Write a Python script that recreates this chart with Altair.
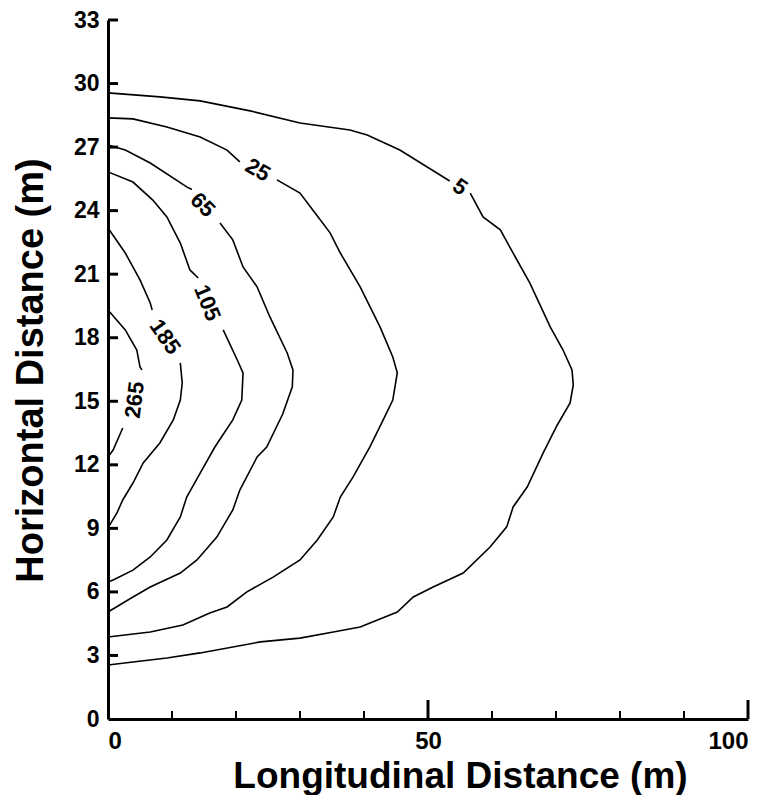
import altair as alt
import pandas as pd

# ---- contour polylines (x = longitudinal m, y = horizontal m); split where the label sits ----
c5_a_x = [0, 8.1, 14.4, 22.2, 30.0, 37.8, 40.5, 45.6, 53.4]
c5_a_y = [29.56, 29.37, 29.18, 28.71, 28.14, 27.81, 27.57, 26.86, 25.40]
c5_b_x = [56.6, 58.6, 61.3, 63.9, 65.9, 69.1, 71.1, 72.5, 72.7, 72.2, 70.2, 68.0, 65.5, 63.3, 62.3,
          59.7, 55.5, 50.8, 47.7, 45.2, 39.4, 35.2, 30.0, 23.8, 14.4, 9.2, 3.9, 0]
c5_b_y = [24.83, 23.70, 23.09, 21.67, 20.59, 18.51, 17.42, 16.48, 15.77, 14.92, 13.88, 12.56, 10.95,
          10.01, 9.07, 8.12, 6.89, 6.23, 5.76, 5.05, 4.34, 4.11, 3.82, 3.64, 3.12, 2.88, 2.69, 2.55]

c25_a_x = [0, 3.9, 9.2, 14.4, 18.6, 20.6]
c25_a_y = [28.38, 28.33, 27.95, 27.48, 26.86, 26.30]
c25_b_x = [26.4, 30.0, 32.0, 34.7, 36.3, 39.4, 42.5, 44.5, 45.2, 44.5, 43.0, 40.9, 38.3, 36.3, 35.2,
           32.7, 30.0, 25.8, 21.7, 18.6, 15.9, 11.7, 6.6, 0]
c25_b_y = [25.45, 24.83, 24.03, 22.95, 22.00, 20.40, 18.51, 17.09, 16.34, 15.06, 14.12, 12.84, 11.43,
           10.48, 9.54, 8.45, 7.51, 6.70, 6.00, 5.29, 5.00, 4.44, 4.11, 3.87]

c65_a_x = [0, 2.7, 6.6, 12.3, 13.1]
c65_a_y = [27.10, 26.86, 26.25, 25.12, 25.00]
c65_b_x = [17.5, 19.5, 21.1, 23.3, 25.3, 28.0, 28.9, 28.8, 27.3, 24.8, 23.3, 20.6, 19.5, 17.0, 13.9,
           11.3, 6.6, 3.9, 0]
c65_b_y = [23.42, 22.62, 21.34, 20.40, 18.98, 17.28, 16.48, 15.68, 14.40, 12.84, 12.37, 10.81, 9.87,
           8.59, 7.51, 6.89, 6.23, 5.76, 5.05]

c105_a_x = [0, 3.9, 7.0, 9.2, 11.3, 12.8, 14.1]
c105_a_y = [25.83, 25.35, 24.50, 23.70, 22.47, 21.20, 20.82]
c105_b_x = [18.0, 20.2, 21.1, 20.9, 19.5, 16.7, 14.4, 12.3, 11.3, 9.2, 6.6, 3.9, 0.8, 0]
c105_b_y = [18.37, 16.95, 16.34, 15.06, 14.12, 12.84, 11.61, 10.48, 9.54, 8.45, 7.65, 7.03, 6.56, 6.47]

c185_a_x = [0, 2.7, 5.0, 6.6, 6.9]
c185_a_y = [23.18, 22.00, 20.73, 19.64, 19.31]
c185_b_x = [11.3, 11.6, 11.3, 10.2, 8.1, 5.5, 3.9, 2.3, 1.4, 0]
c185_b_y = [16.81, 15.86, 15.06, 14.12, 13.03, 12.09, 11.14, 10.34, 9.73, 9.02]

c265_a_x = [0, 2.7, 4.5, 5.0, 5.3]
c265_a_y = [19.31, 18.37, 17.42, 16.62, 16.48]
c265_b_x = [2.3, 0.8, 0]
c265_b_y = [13.74, 12.70, 12.37]

# ---- contour labels ----
label_text = ["5", "25", "65", "105", "185", "265"]
label_x = [55.0, 23.4, 14.8, 15.5, 8.9, 4.2]
label_y = [25.12, 25.92, 24.27, 19.64, 18.04, 15.06]
label_angle = [35, 30, 45, 68, 55, 277]

# ---- axis ticks ----
y_ticks = [0, 3, 6, 9, 12, 15, 18, 21, 24, 27, 30, 33]
x_labels = [0, 50, 100]
x_minor = [10, 20, 30, 40, 60, 70, 80, 90]
x_major = [50, 100]

segments = [
    ("c5a", c5_a_x, c5_a_y), ("c5b", c5_b_x, c5_b_y),
    ("c25a", c25_a_x, c25_a_y), ("c25b", c25_b_x, c25_b_y),
    ("c65a", c65_a_x, c65_a_y), ("c65b", c65_b_x, c65_b_y),
    ("c105a", c105_a_x, c105_a_y), ("c105b", c105_b_x, c105_b_y),
    ("c185a", c185_a_x, c185_a_y), ("c185b", c185_b_x, c185_b_y),
    ("c265a", c265_a_x, c265_a_y), ("c265b", c265_b_x, c265_b_y),
]
rows = []
for name, xs, ys in segments:
    for i, (xv, yv) in enumerate(zip(xs, ys)):
        rows.append({"x": xv, "y": yv, "seg": name, "order": i})
lines_df = pd.DataFrame(rows)
labels_df = pd.DataFrame({"x": label_x, "y": label_y, "t": label_text, "a": label_angle})

W, H = 640, 699
xscale = alt.Scale(domain=[0, 100], nice=False, zero=False)
yscale = alt.Scale(domain=[0, 33], nice=False, zero=False)
FONT = "Liberation Sans"

x_axis = alt.Axis(
    values=x_labels, title="Longitudinal Distance (m)", labelFontSize=24, labelFont=FONT,
    labelFontWeight="bold", labelPadding=10, titleFontSize=37, titleFont=FONT,
    titleFontWeight="bold", titleX=352, titleY=68, titleAlign="center",
    titleBaseline="alphabetic", titleAngle=0, grid=False, ticks=False,
)
y_axis = alt.Axis(
    values=y_ticks, title="Horizontal Distance (m)", labelFontSize=23, labelFont=FONT,
    labelFontWeight="bold", labelPadding=9, titleFontSize=38, titleFont=FONT,
    titleFontWeight="bold", titleX=-66, titleY=350, titleAlign="center",
    titleBaseline="alphabetic", titleAngle=270, grid=False, ticks=False,
)

X = alt.X("x:Q", scale=xscale, axis=x_axis)
Y = alt.Y("y:Q", scale=yscale, axis=y_axis)

lines = alt.Chart(lines_df).mark_line(color="black", strokeWidth=1.6).encode(
    x=X, y=Y, detail="seg:N", order="order:Q",
)

labels = alt.Chart(labels_df).mark_text(
    font=FONT, fontWeight="bold", fontSize=22, align="center", baseline="middle", color="black"
).encode(
    x=X, y=Y, text="t:N", angle=alt.Angle("a:Q", scale=None),
)

yt = alt.Chart(pd.DataFrame({"y": y_ticks[1:]})).mark_rule(color="black", strokeWidth=3).encode(
    y=Y, x=alt.value(0), x2=alt.value(10)
)
xt_minor = alt.Chart(pd.DataFrame({"x": x_minor})).mark_rule(color="black", strokeWidth=2).encode(
    x=X, y=alt.value(H), y2=alt.value(H - 8)
)
xt_major = alt.Chart(pd.DataFrame({"x": x_major})).mark_rule(color="black", strokeWidth=3).encode(
    x=X, y=alt.value(H), y2=alt.value(H - 19)
)

chart = alt.layer(lines, labels, yt, xt_minor, xt_major).properties(
    width=W, height=H,
    autosize=alt.AutoSizeParams(type="none"),
    padding={"left": 100, "top": 12, "right": 17, "bottom": 76},
).configure_view(stroke=None).configure_axis(
    grid=False, ticks=False, domain=True, domainColor="black", domainWidth=3,
    labelColor="black", titleColor="black",
)

chart.save("out.html", embed_options={"renderer": "svg", "actions": False})
